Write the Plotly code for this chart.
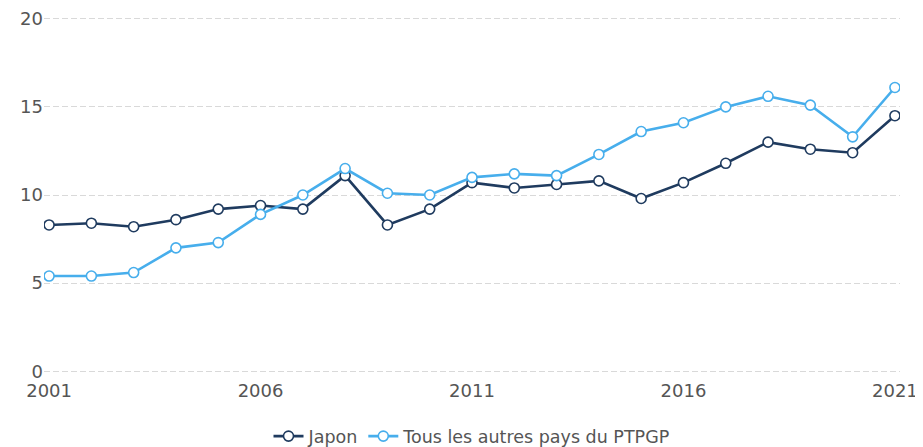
import plotly.graph_objects as go

years = list(range(2001, 2022))
japon = [8.3, 8.4, 8.2, 8.6, 9.2, 9.4, 9.2, 11.1, 8.3, 9.2, 10.7, 10.4, 10.6, 10.8, 9.8, 10.7, 11.8, 13.0, 12.6, 12.4, 14.5]
autres = [5.4, 5.4, 5.6, 7.0, 7.3, 8.9, 10.0, 11.5, 10.1, 10.0, 11.0, 11.2, 11.1, 12.3, 13.6, 14.1, 15.0, 15.6, 15.1, 13.3, 16.1]
x_ticks = [2001, 2006, 2011, 2016, 2021]
y_ticks = [0, 5, 10, 15, 20]

dark = "#1f3b5f"
light = "#47aeec"

fig = go.Figure()
fig.add_trace(go.Scatter(
    x=years, y=japon, name="Japon", mode="lines+markers",
    line=dict(color=dark, width=2.6),
    marker=dict(symbol="circle", size=10, color="white", line=dict(color=dark, width=1.6)),
))
fig.add_trace(go.Scatter(
    x=years, y=autres, name="Tous les autres pays du PTPGP", mode="lines+markers",
    line=dict(color=light, width=2.6),
    marker=dict(symbol="circle", size=10, color="white", line=dict(color=light, width=1.6)),
))

# the page body adds an 8px offset, so the figure is sized to the remaining area
fig.update_layout(
    width=915, height=439,
    margin=dict(l=36, r=23, t=8.7, b=74.2, autoexpand=False),
    paper_bgcolor="white", plot_bgcolor="white",
    font=dict(family="DejaVu Sans, Verdana, sans-serif", color="#555555", size=18),
    showlegend=True,
    legend=dict(orientation="h", x=0.5, xanchor="center", y=-0.127, yanchor="top",
                font=dict(size=17.5, color="#555555"), itemwidth=30),
    xaxis=dict(range=[2000.88, 2021.12], tickvals=x_ticks, ticktext=[str(v) for v in x_ticks],
               showgrid=False, zeroline=False, showline=False, ticks="",
               tickfont=dict(size=18), ticklabeloverflow="allow", ticklabelstandoff=5,
               fixedrange=True),
    yaxis=dict(range=[-0.1, 20.1], tickvals=y_ticks, showgrid=True, gridcolor="#d9d9d9",
               griddash="6px,3px", gridwidth=1, zeroline=False, showline=False, ticks="",
               tickfont=dict(size=18), ticklabeloverflow="allow", fixedrange=True),
)

fig.write_html("out.html")
